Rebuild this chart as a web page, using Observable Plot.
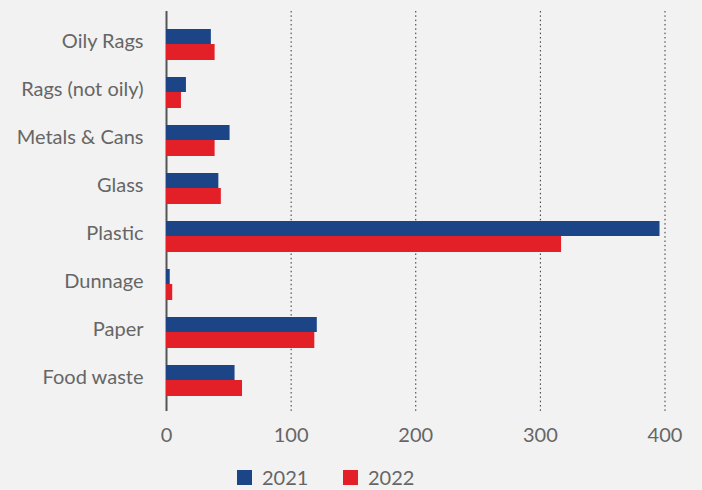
<!DOCTYPE html>
<html>
<head>
<meta charset="utf-8">
<script src="https://cdn.jsdelivr.net/npm/d3@7"></script>
<script src="https://cdn.jsdelivr.net/npm/@observablehq/plot@0.6"></script>
<style>
  html, body { margin: 0; padding: 0; background: #f2f2f2; }
  #wrap { position: relative; width: 702px; height: 490px; font-family: Lato, "Open Sans", sans-serif; }
  #legend { position: absolute; left: 237px; top: 469px; display: flex; align-items: center; font-size: 20px; line-height: 16px; color: #666; }
  .item { display: flex; align-items: center; width: 106px; }
  .sw { width: 15px; height: 15px; margin-right: 10px; flex: none; }
</style>
</head>
<body>
<div id="wrap"></div>
<script>
const categories = ["Oily Rags", "Rags (not oily)", "Metals & Cans", "Glass", "Plastic", "Dunnage", "Paper", "Food waste"];
const values2021 = [36, 16, 51, 42, 396, 3, 121, 55];
const values2022 = [39, 12, 39, 44, 317, 5, 119, 61];
const years = ["2021", "2022"];
const colors = ["#1c4587", "#e31f27"];
const xTicks = [0, 100, 200, 300, 400];

const d2021 = categories.map((c, i) => ({category: c, value: values2021[i]}));
const d2022 = categories.map((c, i) => ({category: c, value: values2022[i]}));

const chart = Plot.plot({
  width: 702,
  height: 460,
  marginLeft: 166,
  marginRight: 37.5,
  marginTop: 11,
  marginBottom: 49,
  style: {background: "#f2f2f2", fontFamily: "Lato, 'Open Sans', sans-serif", fontSize: "20px", color: "#666"},
  x: {domain: [0, 400], ticks: xTicks},
  y: {domain: categories, range: [20.5, 404.5], paddingInner: 0.354, paddingOuter: 0.177, align: 0.5},
  marks: [
    Plot.ruleX(xTicks.filter(t => t > 0), {stroke: "#333", strokeWidth: 1, strokeDasharray: "1.5,2.83"}),
    Plot.ruleX([0], {stroke: "#555", strokeWidth: 2}),
    Plot.barX(d2021, {x: "value", y: "category", fill: colors[0], insetBottom: 16}),
    Plot.barX(d2022, {x: "value", y: "category", fill: colors[1], insetTop: 15}),
    Plot.axisX({ticks: xTicks, tickSize: 0, tickPadding: 16, fontSize: 20, fill: "#666", label: null}),
    Plot.axisY({tickSize: 0, tickPadding: 23, fontSize: 20, fill: "#666", dy: -3, label: null})
  ]
});

const wrap = document.getElementById("wrap");
wrap.appendChild(chart);

const legend = document.createElement("div");
legend.id = "legend";
years.forEach((y, i) => {
  const item = document.createElement("div");
  item.className = "item";
  const sw = document.createElement("div");
  sw.className = "sw";
  sw.style.background = colors[i];
  const t = document.createElement("span");
  t.textContent = y;
  item.appendChild(sw);
  item.appendChild(t);
  legend.appendChild(item);
});
wrap.appendChild(legend);
</script>
</body>
</html>
